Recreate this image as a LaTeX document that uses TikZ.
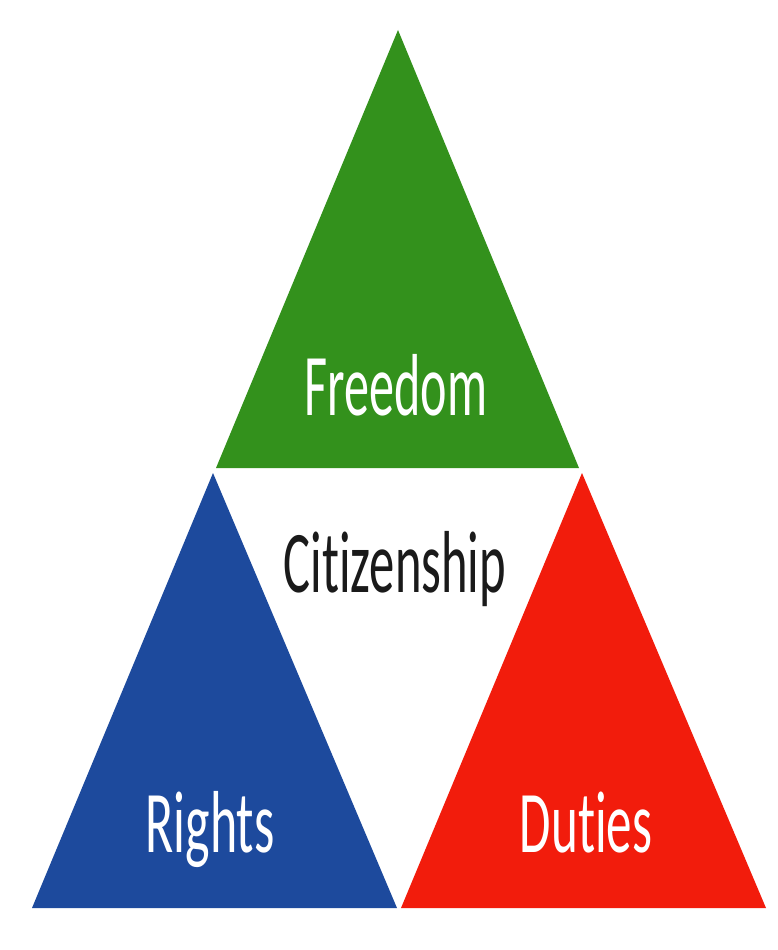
\documentclass[tikz,border=0pt]{standalone}
\usepackage{fontspec}
\setmainfont{Carlito}[Ligatures={NoCommon,NoRare,NoContextual}]
\definecolor{fgreen}{HTML}{33911C}
\definecolor{rblue}{HTML}{1D4A9D}
\definecolor{dred}{HTML}{F21C0C}
\definecolor{ctext}{HTML}{1A1A1A}
\begin{document}
\begin{tikzpicture}[x=1pt,y=-1pt,
  lbl/.style={anchor=base,inner sep=0pt,font=\fontsize{88}{90}\selectfont},
  tri/.style={draw=none}]
\useasboundingbox[fill=white] (0,0) rectangle (777,950);
\coordinate (gA) at (398,30);
\coordinate (gL) at (216,468);
\coordinate (gR) at (579,468);
\coordinate (bA) at (213,473);
\coordinate (bL) at (32,908);
\coordinate (bR) at (397,908);
\coordinate (rA) at (582,473);
\coordinate (rL) at (401,908);
\coordinate (rR) at (766,908);
\fill[fgreen,tri] (gA) -- (gR) -- (gL) -- cycle;
\fill[rblue,tri] (bA) -- (bR) -- (bL) -- cycle;
\fill[dred,tri] (rA) -- (rR) -- (rL) -- cycle;
\node[lbl,text=white] (freedom) at (396,415) {\scalebox{0.57}[1]{Freedom}};
\node[lbl,text=ctext] (citizen) at (395,592) {\scalebox{0.575}[1]{Citizenship}};
\node[lbl,text=white] (rights) at (210,852) {\scalebox{0.59}[1]{Rights}};
\node[lbl,text=white] (duties) at (586,852) {\scalebox{0.58}[1]{Duties}};
\end{tikzpicture}
\end{document}
